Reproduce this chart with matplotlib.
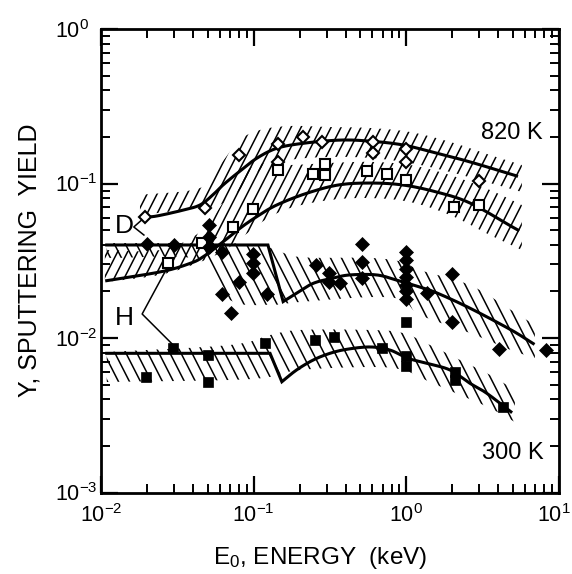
import numpy as np
import matplotlib
matplotlib.use("Agg")
import matplotlib.pyplot as plt
from matplotlib.collections import LineCollection
from matplotlib.path import Path
from matplotlib.ticker import FuncFormatter, LogLocator, NullFormatter
from matplotlib.transforms import ScaledTranslation

plt.rcParams["font.family"] = ["Liberation Sans", "DejaVu Sans"]
plt.rcParams["mathtext.default"] = "regular"

# ---- measured sputtering yields -------------------------------------------
# D+ at 820 K (open diamonds)
d820_E = [0.0194, 0.048, 0.0805, 0.145, 0.145, 0.211, 0.279, 0.601, 0.601, 1.0, 1.0, 2.97]
d820_Y = [0.0607, 0.0694, 0.153, 0.179, 0.138, 0.201, 0.187, 0.187, 0.157, 0.166, 0.138, 0.104]

# H+ at 820 K (open squares)
h820_E = [0.0276, 0.0456, 0.0731, 0.099, 0.145, 0.244, 0.292, 0.292, 0.552, 0.75, 1.0, 2.05, 2.97]
h820_Y = [0.0304, 0.0414, 0.052, 0.0682, 0.122, 0.115, 0.134, 0.1135, 0.121, 0.115, 0.106, 0.070, 0.0726]

# D+ at 300 K (filled diamonds)
d300_E = [0.020, 0.030, 0.051, 0.051, 0.051, 0.062, 0.062, 0.071, 0.080, 0.099, 0.099, 0.099,
          0.122, 0.256, 0.31, 0.31, 0.366, 0.51, 0.51, 0.51,
          1.0, 1.0, 1.0, 1.0, 1.0, 1.0, 1.0, 1.36, 2.0, 2.0, 4.06, 8.17]
d300_Y = [0.0406, 0.040, 0.0535, 0.045, 0.0388, 0.0362, 0.0194, 0.0146, 0.0229, 0.035, 0.0304, 0.0262,
          0.0193, 0.0297, 0.0265, 0.023, 0.0226, 0.0406, 0.0312, 0.0246,
          0.036, 0.032, 0.028, 0.025, 0.022, 0.020, 0.018, 0.0196, 0.0261, 0.0127, 0.0085, 0.0084]

# H+ at 300 K (filled squares)
h300_E = [0.0196, 0.0296, 0.050, 0.050, 0.1186, 0.252, 0.336, 0.689, 1.0, 1.0, 1.0, 2.08, 2.08, 4.27]
h300_Y = [0.00562, 0.00858, 0.00776, 0.00521, 0.00924, 0.0097, 0.0101, 0.00858, 0.0127, 0.00764,
          0.00659, 0.00603, 0.00535, 0.00356]

# ---- fitted curves ---------------------------------------------------------
fit_d820_E = [0.0194, 0.0232, 0.0346, 0.0445, 0.054, 0.063, 0.0802, 0.1047, 0.1416, 0.2104, 0.367,
              0.578, 0.955, 1.58, 2.61, 5.27]
fit_d820_Y = [0.0607, 0.0616, 0.0673, 0.0726, 0.0843, 0.0978, 0.119, 0.1456, 0.169, 0.182, 0.191,
              0.188, 0.1775, 0.157, 0.138, 0.112]

fit_h820_E = [0.0109, 0.025, 0.0383, 0.0468, 0.0632, 0.0813, 0.1047, 0.1416, 0.2223, 0.358,
              0.578, 0.95, 1.585, 2.61, 4.84, 5.38]
fit_h820_Y = [0.0235, 0.0269, 0.0304, 0.0336, 0.042, 0.0513, 0.061, 0.0726, 0.0864, 0.0978,
              0.1007, 0.0978, 0.088, 0.0748, 0.053, 0.050]

# 300 K: constant low-energy level, step, then smooth high-energy branch
fit_d300_flat_E = [0.0109, 0.124]
fit_d300_flat_Y = [0.040, 0.040]
fit_d300_E = [0.156, 0.191, 0.246, 0.330, 0.427, 0.639, 0.863, 1.2, 1.58, 2.61, 4.84, 6.78]
fit_d300_Y = [0.0172, 0.0195, 0.0226, 0.0244, 0.0256, 0.0256, 0.0237, 0.0215, 0.0196, 0.0156, 0.0113, 0.0092]

fit_h300_flat_E = [0.0109, 0.128]
fit_h300_flat_Y = [0.00796, 0.00796]
fit_h300_E = [0.153, 0.191, 0.246, 0.316, 0.407, 0.578, 0.78, 1.02, 1.36, 1.93, 2.61, 3.36, 4.84]
fit_h300_Y = [0.00521, 0.00621, 0.00721, 0.00796, 0.00845, 0.00875, 0.00836, 0.0074, 0.00686,
              0.00621, 0.00509, 0.00439, 0.00333]

# ---- scatter bands (hatched regions) ---------------------------------------
band_d820_E = [0.018, 0.0445, 0.0601, 0.0813, 0.110, 0.173, 0.316, 0.578, 1.056, 1.93, 3.53, 5.71]
band_d820_hi = [0.0843, 0.0935, 0.1318, 0.191, 0.222, 0.2356, 0.232, 0.2287, 0.2155, 0.186, 0.153, 0.1318]
band_d820_lo = [0.0625, 0.0694, 0.0726, 0.0908, 0.1223, 0.142, 0.1485, 0.1463, 0.1358, 0.1187, 0.1007, 0.0881]

band_h820_E = [0.0106, 0.0243, 0.0445, 0.0648, 0.0877, 0.1186, 0.173, 0.316, 0.578, 1.056, 1.93, 3.53, 5.71]
band_h820_hi = [0.0371, 0.0371, 0.0485, 0.0782, 0.1187, 0.1358, 0.1318, 0.1358, 0.138, 0.1318, 0.1135, 0.0908, 0.0726]
band_h820_lo = [0.023, 0.0256, 0.031, 0.0371, 0.0464, 0.058, 0.0694, 0.0782, 0.0805, 0.0759, 0.0625, 0.0464, 0.0371]

band_d300_E = [0.0109, 0.0445, 0.070, 0.128, 0.201, 0.578, 0.950, 1.228, 2.61, 4.84, 6.95]
band_d300_hi = [0.0412, 0.0412, 0.0412, 0.0383, 0.0334, 0.033, 0.031, 0.0275, 0.022, 0.0152, 0.0121]
band_d300_lo = [0.033, 0.032, 0.0176, 0.0164, 0.0171, 0.0184, 0.0176, 0.0141, 0.01077, 0.00836, 0.00742]

band_h300_E = [0.0109, 0.070, 0.128, 0.201, 0.578, 0.950, 1.428, 2.244, 3.53, 5.14]
band_h300_hi = [0.00811, 0.00901, 0.01045, 0.01127, 0.01127, 0.01077, 0.00901, 0.00721, 0.00577, 0.0046]
band_h300_lo = [0.00519, 0.00535, 0.0056, 0.00621, 0.00649, 0.00621, 0.00519, 0.00428, 0.00352, 0.00286]


def smooth(xs, ys, n=16):
    """Catmull-Rom spline through the points, evaluated in log-log space."""
    P = np.column_stack([np.log10(xs), np.log10(ys)])
    P = np.vstack([2 * P[0] - P[1], P, 2 * P[-1] - P[-2]])
    t = np.linspace(0, 1, n, endpoint=False)[:, None]
    out = []
    for i in range(1, len(P) - 2):
        p0, p1, p2, p3 = P[i - 1], P[i], P[i + 1], P[i + 2]
        out.append(0.5 * (2 * p1 + (-p0 + p2) * t + (2 * p0 - 5 * p1 + 4 * p2 - p3) * t ** 2
                          + (-p0 + 3 * p1 - 3 * p2 + p3) * t ** 3))
    out.append(P[-2][None])
    out = np.vstack(out)
    return 10 ** out[:, 0], 10 ** out[:, 1]


def hatch_band(ax, E, lo, hi, angle, step_px, lw=1.1):
    """Fill the region between lo and hi with slanted hatch strokes."""
    xs, ys_hi = smooth(E, hi, 8)
    _, ys_lo = smooth(E, lo, 8)
    verts = np.column_stack([np.r_[xs, xs[::-1]], np.r_[ys_hi, ys_lo[::-1]]])
    verts = np.vstack([verts, verts[:1]])
    region = Path(verts, closed=True)
    bb = ax.get_window_extent()
    W, H = bb.width, bb.height
    k = (H / W) / np.tan(np.radians(angle))
    x0s = np.arange(-2.0, 3.0, step_px / W)
    segs = [[(x0 - 0.1 * k, -0.1), (x0 + 1.1 * k, 1.1)] for x0 in x0s]
    lc = LineCollection(segs, colors="black", linewidths=lw, transform=ax.transAxes)
    lc.set_clip_path(region, ax.transData)
    ax.add_collection(lc, autolim=False)


fig = plt.figure(figsize=(5.72, 5.74), dpi=100)
ax = fig.add_axes([101 / 572, 1 - 492.5 / 574, 458 / 572, 463.5 / 574])
ax.set_xscale("log")
ax.set_yscale("log")
ax.set_xlim(1e-2, 1e1)
ax.set_ylim(1e-3, 1e0)

# hatched scatter bands
hatch_band(ax, band_d820_E, band_d820_lo, band_d820_hi, 63, 10)
hatch_band(ax, band_h820_E, band_h820_lo, band_h820_hi, 63, 10)
hatch_band(ax, band_d300_E, band_d300_lo, band_d300_hi, -63, 11)
hatch_band(ax, band_h300_E, band_h300_lo, band_h300_hi, -63, 11)

# fitted curves
lw_fit = 2.2
ax.plot(*smooth(fit_d820_E, fit_d820_Y), color="black", lw=lw_fit, zorder=3)
ax.plot(*smooth(fit_h820_E, fit_h820_Y), color="black", lw=lw_fit, zorder=3)
for fx, fy, sx, sy in [(fit_d300_flat_E, fit_d300_flat_Y, fit_d300_E, fit_d300_Y),
                       (fit_h300_flat_E, fit_h300_flat_Y, fit_h300_E, fit_h300_Y)]:
    cx, cy = smooth(sx, sy)
    ax.plot(np.r_[fx, cx], np.r_[fy, cy], color="black", lw=lw_fit, zorder=3,
            solid_joinstyle="miter")

# data points
ax.plot(d820_E, d820_Y, ls="none", marker="D", ms=6.4, mfc="white", mec="black", mew=1.5, zorder=5)
ax.plot(h820_E, h820_Y, ls="none", marker="s", ms=6.6, mfc="white", mec="black", mew=1.5, zorder=5)
ax.plot(d300_E, d300_Y, ls="none", marker="D", ms=7.0, mfc="black", mec="black", mew=0.5, zorder=5)
ax.plot(h300_E, h300_Y, ls="none", marker="s", ms=7.5, mfc="black", mec="black", mew=0.5, zorder=5)

# species labels with pointer lines
ax.text(0.050, 0.575, "D", transform=ax.transAxes, fontsize=19, ha="center", va="center")
ax.plot([0.0191, 0.0164, 0.0191], [0.0598, 0.0523, 0.0464], color="black", lw=1.1, zorder=4)
ax.text(0.052, 0.376, "H", transform=ax.transAxes, fontsize=19, ha="center", va="center")
ax.plot([0.0275, 0.0186, 0.0297], [0.0292, 0.0143, 0.00901], color="black", lw=1.1, zorder=4)

# temperature labels
ax.text(0.897, 0.776, "820 K", transform=ax.transAxes, fontsize=17, ha="center", va="center")
ax.text(0.900, 0.085, "300 K", transform=ax.transAxes, fontsize=17, ha="center", va="center")

# axes styling
for sp in ax.spines.values():
    sp.set_linewidth(2.0)
ax.xaxis.set_major_locator(LogLocator(base=10, numticks=10))
ax.yaxis.set_major_locator(LogLocator(base=10, numticks=10))
ax.xaxis.set_minor_locator(LogLocator(base=10, subs=np.arange(2, 10), numticks=10))
ax.yaxis.set_minor_locator(LogLocator(base=10, subs=np.arange(2, 10), numticks=10))
fmt = FuncFormatter(lambda v, pos: r"$10^{%d}$" % int(round(np.log10(v))))
ax.xaxis.set_major_formatter(fmt)
ax.yaxis.set_major_formatter(fmt)
ax.xaxis.set_minor_formatter(NullFormatter())
ax.yaxis.set_minor_formatter(NullFormatter())
ax.tick_params(which="both", direction="in", top=True, right=True, labelsize=15.5)
ax.tick_params(which="major", length=12, width=1.6)
ax.tick_params(which="minor", length=6.5, width=1.4)
ax.tick_params(axis="x", which="major", pad=8)
ax.tick_params(axis="y", which="major", pad=33)
for lbl in ax.get_yticklabels():
    lbl.set_horizontalalignment("left")

fig.text(30 / 572, 1 - 260 / 574, "Y, SPUTTERING  YIELD", rotation=90, fontsize=18,
         ha="center", va="center")
fig.text(320 / 572, 1 - 558 / 574, "E$_0$, ENERGY  (keV)", fontsize=17.5, ha="center", va="center")

# keep the rightmost energy label inside the figure edge
fig.canvas.draw()
for tick in ax.xaxis.get_major_ticks():
    if np.isclose(tick.get_loc(), 10.0):
        tick.label1.set_transform(tick.label1.get_transform()
                                  + ScaledTranslation(-4 / 72, 0, fig.dpi_scale_trans))

fig.savefig("out.png", dpi=100)
